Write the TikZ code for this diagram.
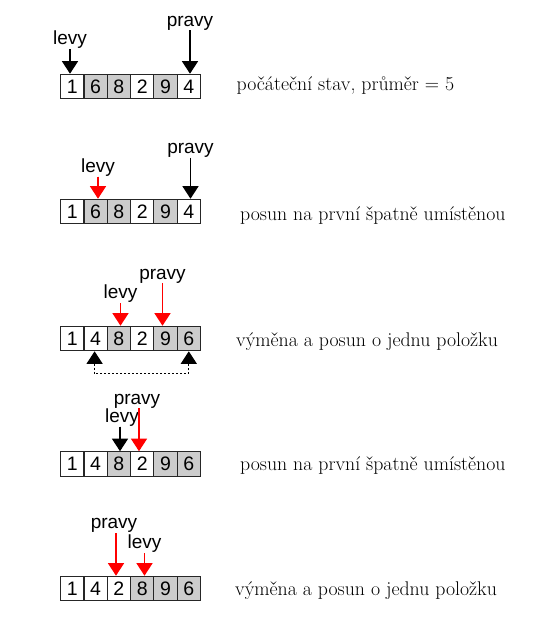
\documentclass[tikz,border=0pt]{standalone}
\usepackage{fontspec}
\newfontfamily\labf{Liberation Sans}
\usetikzlibrary{arrows.meta}
\definecolor{cellgray}{HTML}{CCCCCC}
\definecolor{ptrred}{HTML}{FF0000}
\begin{document}
\begin{tikzpicture}[x=1pt,y=-1pt,
  cell/.style={draw=black!85,line width=1.1pt,minimum width=23.3pt,minimum height=24.5pt,inner sep=0,font=\labf\fontsize{19.5}{19.5}\selectfont},
  cellg/.style={cell,fill=cellgray},
  cellw/.style={cell,fill=white},
  lab/.style={inner sep=0,font=\labf\fontsize{19}{19}\selectfont},
  desc/.style={inner sep=0,anchor=base west,font=\fontsize{19.8}{22}\selectfont},
  ptr/.style={line width=1.2pt,-{Triangle[width=16pt,length=12.5pt]}},
  bptr/.style={ptr,draw=black,fill=black},
  rptr/.style={ptr,draw=ptrred,fill=ptrred},
  swap/.style={line width=1pt,dash pattern=on 2pt off 2pt,{Triangle[width=16pt,length=12.5pt]}-{Triangle[width=16pt,length=12.5pt]}},
]
\useasboundingbox (0,0) rectangle (534,632);

% row 1
\foreach \v/\s [count=\i] in {1/w,6/g,8/g,2/w,9/g,4/w}
  \node[cell\s] (a\i) at ({72.3+(\i-1)*23.3},86.5) {\v};
\node[lab] (la) at (70,40) {levy};
\node[lab] (pa) at (190,23) {pravy};
\draw[bptr] (la.south) -- (la.south |- a1.north);
\draw[bptr] (pa.south) -- (pa.south |- a6.north);
\node[desc] (ta) at (236.5,90.7) {počáteční stav, průměr = 5};

% row 2
\foreach \v/\s [count=\i] in {1/w,6/g,8/g,2/w,9/g,4/w}
  \node[cell\s] (b\i) at ({72.3+(\i-1)*23.3},211.5) {\v};
\node[lab] (lb) at (98,167.5) {levy};
\node[lab] (pb) at (190.5,150.5) {pravy};
\draw[rptr] (lb.south) -- (lb.south |- b2.north);
\draw[bptr] (pb.south) -- (pb.south |- b6.north);
\node[desc] (tb) at (240,220) {posun na první špatně umístěnou};

% row 3
\foreach \v/\s [count=\i] in {1/w,4/w,8/g,2/w,9/g,6/g}
  \node[cell\s] (c\i) at ({72.3+(\i-1)*23.3},338.5) {\v};
\node[lab] (lc) at (120.5,294) {levy};
\node[lab] (pc) at (162.5,276) {pravy};
\draw[rptr] (lc.south) -- (lc.south |- c3.north);
\draw[rptr] (pc.south) -- (pc.south |- c5.north);
\draw[swap] ([xshift=-1pt]c2.south) -- ++(0,22.5) -| (c6.south);
\node[desc] (tc) at (236,346.7) {výměna a posun o jednu položku};

% row 4
\foreach \v/\s [count=\i] in {1/w,4/w,8/g,2/w,9/g,6/g}
  \node[cell\s] (d\i) at ({72.3+(\i-1)*23.3},464) {\v};
\node[lab] (ld) at (122,417.5) {levy};
\node[lab] (pd) at (137,401) {pravy};
\draw[bptr] ([xshift=-2pt]ld.south) coordinate (ldt) -- (ldt |- d3.north);
\draw[rptr] ([xshift=2pt]pd.south) coordinate (pdt) -- (pdt |- d4.north);
\node[desc] (td) at (240,470) {posun na první špatně umístěnou};

% row 5
\foreach \v/\s [count=\i] in {1/w,4/w,2/w,8/g,9/g,6/g}
  \node[cell\s] (e\i) at ({72.3+(\i-1)*23.3},588.5) {\v};
\node[lab] (pe) at (114,525.8) {pravy};
\node[lab] (le) at (144.5,544) {levy};
\draw[rptr] ([xshift=2pt]pe.south) coordinate (pet) -- (pet |- e3.north);
\draw[rptr] (le.south) -- (le.south |- e4.north);
\node[desc] (te) at (235,595) {výměna a posun o jednu položku};
\end{tikzpicture}
\end{document}
